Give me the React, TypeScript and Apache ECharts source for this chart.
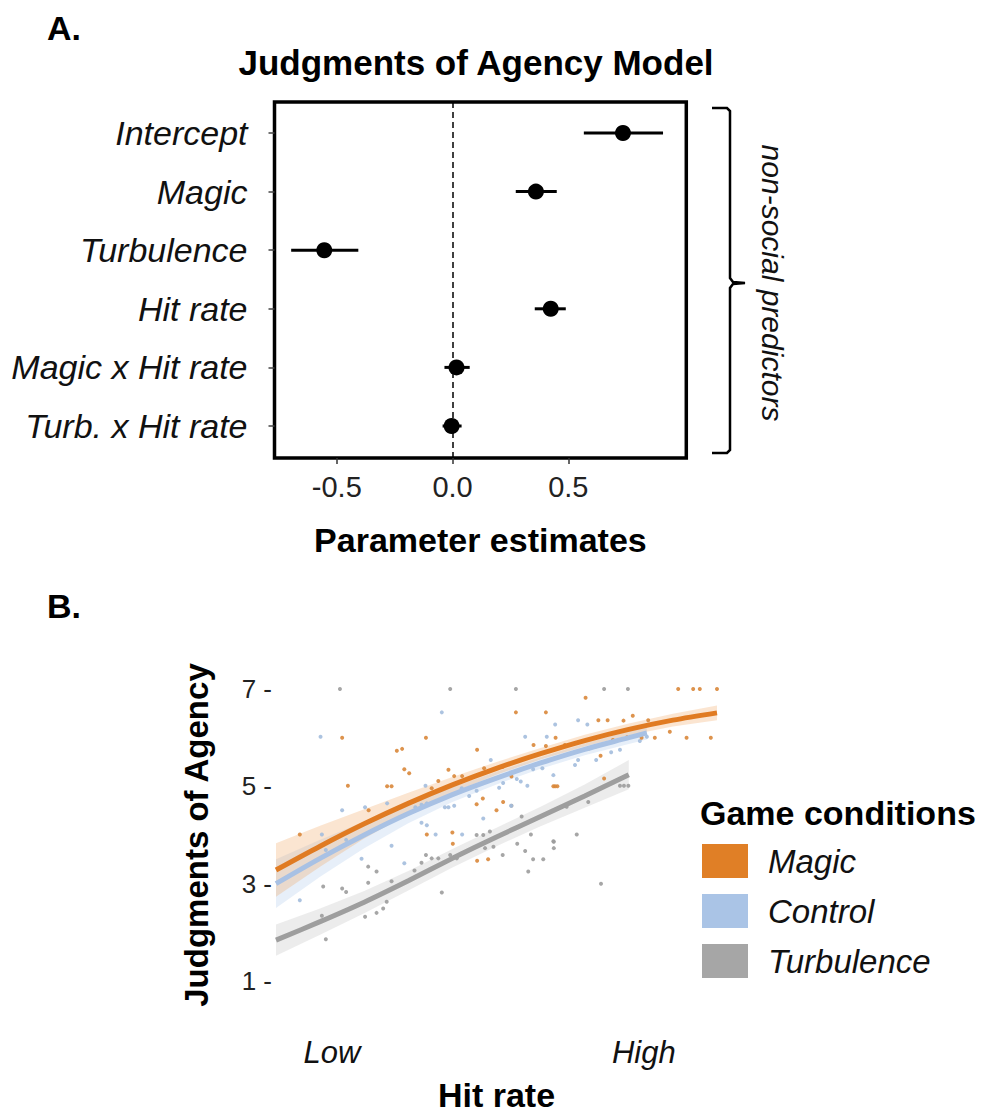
import React, { useEffect, useRef } from 'react';
import * as echarts from 'echarts';

// ---------- Panel A data ----------
const predictors = ['Intercept', 'Magic', 'Turbulence', 'Hit rate', 'Magic x Hit rate', 'Turb. x Hit rate'];
const predictorRows = [0, 1, 2, 3, 4, 5];
const estimates = [0.736, 0.36, -0.554, 0.424, 0.017, -0.004];
const ciLower = [0.567, 0.273, -0.697, 0.355, -0.035, -0.043];
const ciUpper = [0.909, 0.45, -0.407, 0.489, 0.074, 0.039];
const estimateTicks = [-0.5, 0, 0.5];

// ---------- Panel B data ----------
const conditions = ['Magic', 'Control', 'Turbulence'];
const magicFitX = [0, 10, 20, 30, 40, 50, 60, 70, 80, 90, 100];
const magicFit = [3.28, 3.77, 4.23, 4.65, 5.03, 5.37, 5.67, 5.94, 6.17, 6.36, 6.51];
const magicHalfCI = [0.55, 0.42, 0.3, 0.22, 0.16, 0.13, 0.12, 0.12, 0.12, 0.13, 0.15];
const controlFitX = [0, 10, 20, 30, 40, 50, 60, 70, 80, 84.1];
const controlFit = [3.0, 3.52, 4.0, 4.44, 4.83, 5.17, 5.48, 5.76, 6.0, 6.1];
const controlHalfCI = [0.5, 0.38, 0.27, 0.2, 0.15, 0.13, 0.12, 0.12, 0.13, 0.14];
const turbulenceFitX = [0, 10, 20, 30, 40, 50, 60, 70, 80];
const turbulenceFit = [1.84, 2.22, 2.62, 3.06, 3.52, 3.96, 4.38, 4.8, 5.24];
const turbulenceHalfCI = [0.32, 0.27, 0.23, 0.2, 0.19, 0.19, 0.2, 0.24, 0.3];

const magicPoints = [
  [91.2, 7], [94.6, 7], [96.1, 7], [100, 7], [70.2, 6.82], [54.4, 6.52], [61.2, 6.52], [73.1, 6.36],
  [75.2, 6.36], [78.8, 6.35], [80.9, 6.45], [84.4, 6.36], [89.3, 6.12], [93.1, 6], [98.6, 6], [82.9, 6],
  [85.9, 6], [63.4, 6], [15, 6], [34, 6], [27.4, 5.73], [28.6, 5.77], [29.1, 5.35], [30.2, 5.27],
  [45.6, 5.75], [16.3, 5.01], [25.2, 5], [26.2, 5], [39.1, 5.34], [40.4, 5.21], [42.2, 5.21], [36.8, 5.11],
  [35.3, 4.96], [21, 4.51], [47.2, 5.37], [45.5, 4.63], [46.9, 4.75], [50, 4.51], [5.4, 4.01], [34.2, 4.01],
  [40, 4.05], [40.1, 3.82], [45.6, 3.47], [48.1, 3.5], [74.4, 5.16], [62.9, 5], [63.3, 5], [63.8, 5],
  [51.5, 4.68], [73.6, 5.63], [71, 5.78], [72.3, 5.81], [58.4, 5.85], [61.2, 5.83], [65.5, 5.85], [76.4, 5.95],
  [79.6, 6.01], [51.4, 5.4], [53.4, 5.2],
];
const controlPoints = [
  [37.6, 6.52], [63.3, 6.27], [68.5, 6.36], [70.6, 6.27], [56.5, 6.02], [61.4, 6.02], [84.1, 6.02], [10.1, 6.02],
  [33.9, 5.01], [15, 4.51], [20.2, 4.57], [25.2, 4.65], [31.6, 4.57], [33, 4.62], [34.2, 4.65], [35.4, 4.66],
  [38.3, 4.57], [39.1, 4.57], [40.4, 4.6], [42.1, 4.96], [43.8, 4.8], [45.5, 4.91], [48.7, 5.54], [47, 4.34],
  [33, 4.25], [34.2, 4.2], [10.4, 4.01], [36.2, 4.01], [42.2, 4.01], [26.2, 3.78], [11.3, 3.69], [15.9, 3.9],
  [29.1, 3.42], [19.4, 3.51], [5.4, 2.66], [62.9, 5.23], [57, 5.01], [60.4, 5.37], [58.3, 5.35], [54.6, 5.15],
  [55.5, 5.1], [51.5, 5.07], [50.6, 4.97], [53.3, 4.6], [72.6, 5.54], [76, 5.7], [78, 5.75], [82.5, 5.93],
  [67.8, 5.44], [68.5, 5.54],
];
const turbulencePoints = [
  [14.5, 7], [39.5, 7], [54.4, 7], [74.4, 7], [79.8, 7], [57.8, 4.01], [68.2, 4.01], [63, 3.86],
  [54.7, 3.82], [63, 3.73], [49.3, 3.76], [56.5, 3.67], [51.4, 3.59], [34, 3.59], [35.3, 3.52], [36.8, 3.52],
  [33, 3.43], [58.3, 3.5], [60.6, 3.5], [57.2, 3.25], [73.7, 3], [20.9, 3.35], [22.8, 3.25], [20.9, 3.02],
  [26.2, 3.05], [10.7, 2.94], [15, 2.9], [15.9, 2.83], [37.6, 2.82], [10.4, 2.34], [20.2, 2.32], [22.8, 2.4],
  [24.3, 2.49], [25.1, 2.63], [11.3, 1.86], [70.8, 4.68], [65.5, 4.6], [78, 5.01], [78.9, 5.01], [79.9, 5.01],
  [53.4, 4.6], [31.4, 3.27], [39.5, 3.59], [41, 3.52], [42.1, 3.62], [45.5, 4], [47, 4], [48.5, 4.07],
  [47.4, 3.73], [65.9, 4.58], [55.7, 4.38], [62.9, 3.87],
];
const agencyTicks = [1, 3, 5, 7];
const hitRateTicks = [12.7, 83.4];
const hitRateLabels = ['Low', 'High'];

const FONT = "'Liberation Sans', Arial, Helvetica, sans-serif";

const lineColors = ['#E07B22', '#A8C1E4', '#9E9E9E'];
const legendColors = ['#E07F26', '#AAC4E6', '#A6A6A6'];
const bandColors = ['rgba(240,160,90,0.28)', 'rgba(170,196,232,0.28)', 'rgba(170,170,170,0.22)'];
const pointColors = ['#D9873A', '#A3BCDD', '#9C9C9C'];

function bandSeries(name: string, xs: number[], fit: number[], half: number[], fill: string) {
  const rows = xs.map((x, i) => [x, fit[i] - half[i], fit[i] + half[i]]);
  return {
    type: 'custom',
    name: name + ' 95% band',
    xAxisIndex: 1,
    yAxisIndex: 1,
    silent: true,
    z: 1,
    data: rows,
    encode: { x: 0, y: [1, 2] },
    renderItem: (params: any, api: any) => {
      if (params.dataIndex !== 0) return null;
      const up = rows.map((d) => api.coord([d[0], d[2]]));
      const lo = rows.map((d) => api.coord([d[0], d[1]])).reverse();
      return { type: 'polygon', shape: { points: up.concat(lo) }, style: { fill, stroke: 'none' } };
    },
  };
}

export default function App() {
  const ref = useRef<HTMLDivElement>(null);
  useEffect(() => {
    if (!ref.current) return;
    const chart = echarts.init(ref.current, undefined, { renderer: 'svg' });
    const fits = [
      [magicFitX, magicFit, magicHalfCI, magicPoints],
      [controlFitX, controlFit, controlHalfCI, controlPoints],
      [turbulenceFitX, turbulenceFit, turbulenceHalfCI, turbulencePoints],
    ] as any[];

    const bands = [2, 1, 0].map((k) => bandSeries(conditions[k], fits[k][0], fits[k][1], fits[k][2], bandColors[k]));
    const pts = [2, 1, 0].map((k) => ({
      type: 'scatter',
      name: conditions[k] + ' ratings',
      xAxisIndex: 1,
      yAxisIndex: 1,
      data: fits[k][3],
      symbolSize: 4,
      silent: true,
      itemStyle: { color: pointColors[k], opacity: 0.9 },
      z: 2,
    }));
    const lines = [2, 1, 0].map((k) => ({
      type: 'line',
      name: conditions[k],
      xAxisIndex: 1,
      yAxisIndex: 1,
      data: fits[k][0].map((x: number, i: number) => [x, fits[k][1][i]]),
      showSymbol: false,
      smooth: 0.3,
      silent: true,
      lineStyle: { color: lineColors[k], width: 5 },
      itemStyle: { color: legendColors[k] },
      z: 5,
    }));

    const option: any = {
      animation: false,
      backgroundColor: '#ffffff',
      textStyle: { fontFamily: FONT },
      grid: [
        { left: 274.5, top: 102, width: 411.8, height: 356, show: true, borderColor: '#000', borderWidth: 3.5, backgroundColor: 'transparent' },
        { left: 276, top: 689, width: 441, height: 292 },
      ],
      xAxis: [
        {
          gridIndex: 0, type: 'value', min: -0.769, max: 1.0095, position: 'bottom',
          splitLine: { show: false }, axisLine: { show: false, onZero: false },
          axisTick: { show: true, customValues: estimateTicks, length: 6, lineStyle: { color: '#333', width: 1.5 } },
          axisLabel: { customValues: estimateTicks, formatter: (v: number) => v.toFixed(1), fontSize: 29, color: '#222', margin: 14, fontFamily: FONT },
          name: 'Parameter estimates', nameLocation: 'middle', nameGap: 65,
          nameTextStyle: { fontSize: 34, fontWeight: 'bold', color: '#000', fontFamily: FONT },
        },
        {
          gridIndex: 1, type: 'value', min: 0, max: 100, position: 'bottom',
          splitLine: { show: false }, axisLine: { show: false, onZero: false }, axisTick: { show: false },
          axisLabel: {
            customValues: hitRateTicks,
            formatter: (v: number) => (v < 50 ? hitRateLabels[0] : hitRateLabels[1]),
            fontSize: 31, fontStyle: 'italic', color: '#111', margin: 56, fontFamily: FONT,
          },
          name: 'Hit rate', nameLocation: 'middle', nameGap: 97,
          nameTextStyle: { fontSize: 34, fontWeight: 'bold', color: '#000', fontFamily: FONT },
        },
      ],
      yAxis: [
        {
          gridIndex: 0, type: 'value', min: -0.529, max: 5.546, inverse: true, position: 'left',
          axisLine: { show: false, onZero: false }, splitLine: { show: false },
          axisTick: { show: true, customValues: predictorRows, length: 6, lineStyle: { color: '#444', width: 1.5 } },
          axisLabel: {
            customValues: predictorRows,
            formatter: (v: number) => predictors[Math.round(v)] ?? '',
            fontSize: 34, fontStyle: 'italic', color: '#111', margin: 27, fontFamily: FONT,
          },
        },
        {
          gridIndex: 1, type: 'value', min: 1, max: 7, position: 'left',
          axisLine: { show: false, onZero: false }, axisTick: { show: false }, splitLine: { show: false },
          axisLabel: { customValues: agencyTicks, formatter: (v: number) => `${v} -`, fontSize: 26, color: '#222', margin: 4, fontFamily: FONT },
          name: 'Judgments of Agency', nameLocation: 'middle', nameRotate: 90, nameGap: 63,
          nameTextStyle: { fontSize: 33, fontWeight: 'bold', color: '#000', fontFamily: FONT },
        },
      ],
      legend: {
        orient: 'vertical', left: 697, top: 839, itemWidth: 46, itemHeight: 34, itemGap: 16,
        selectedMode: false,
        data: conditions.map((c, k) => ({ name: c, icon: 'rect', itemStyle: { color: legendColors[k], borderWidth: 0 } })),
        textStyle: { fontSize: 33, fontStyle: 'italic', color: '#111', fontFamily: FONT, padding: [0, 0, 0, 15] },
      },
      graphic: [
        { type: 'text', x: 47, y: 28, style: { text: 'A.', font: `bold 34px ${FONT}`, fill: '#000', textVerticalAlign: 'middle' } },
        { type: 'text', x: 476, y: 62, style: { text: 'Judgments of Agency Model', font: `bold 35px ${FONT}`, fill: '#000', textAlign: 'center', textVerticalAlign: 'middle' } },
        { type: 'text', x: 47, y: 606, style: { text: 'B.', font: `bold 34px ${FONT}`, fill: '#000', textVerticalAlign: 'middle' } },
        {
          type: 'polyline',
          shape: { points: [[712, 108], [727, 108], [730, 111], [730, 278], [733, 282], [745, 283], [733, 284], [730, 288], [730, 450], [727, 453], [712, 453]] },
          style: { stroke: '#000', lineWidth: 2.5, fill: null },
        },
        { type: 'text', x: 772, y: 283, rotation: -Math.PI / 2, style: { text: 'non-social predictors', font: `italic 30px ${FONT}`, fill: '#111', textAlign: 'center', textVerticalAlign: 'middle' } },
        { type: 'text', x: 700, y: 813, style: { text: 'Game conditions', font: `bold 34px ${FONT}`, fill: '#000', textVerticalAlign: 'middle' } },
      ],
      series: [
        {
          type: 'custom', name: '95% CI', xAxisIndex: 0, yAxisIndex: 0, silent: true, z: 3,
          data: predictorRows.map((r) => [ciLower[r], ciUpper[r], r]),
          encode: { x: [0, 1], y: 2 },
          renderItem: (params: any, api: any) => {
            const a = api.coord([api.value(0), api.value(2)]);
            const b = api.coord([api.value(1), api.value(2)]);
            return { type: 'line', shape: { x1: a[0], y1: a[1], x2: b[0], y2: b[1] }, style: { stroke: '#000', lineWidth: 3 } };
          },
          markLine: {
            silent: true, symbol: 'none', label: { show: false },
            lineStyle: { type: [6, 4], color: '#000', width: 1.5 },
            data: [{ xAxis: 0 }],
          },
        },
        {
          type: 'scatter', name: 'Estimate', xAxisIndex: 0, yAxisIndex: 0, silent: true, z: 4,
          data: predictorRows.map((r) => [estimates[r], r]),
          symbolSize: 16, itemStyle: { color: '#000', opacity: 1 },
        },
        ...bands,
        ...pts,
        ...lines,
      ],
    };
    chart.setOption(option);
    return () => chart.dispose();
  }, []);
  return <div ref={ref} style={{ position: 'fixed', left: 0, top: 0, width: 983, height: 1117, background: '#fff' }} />;
}
